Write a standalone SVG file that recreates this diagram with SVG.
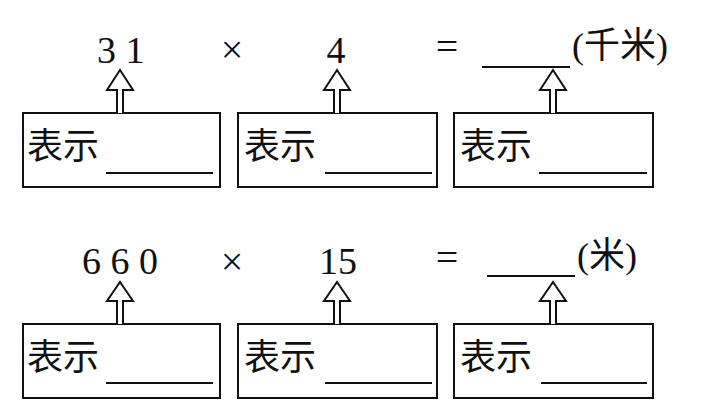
<svg xmlns="http://www.w3.org/2000/svg" width="711" height="406" viewBox="0 0 711 406">
<style>
.box{fill:none;stroke:#111;stroke-width:2}
.ln{stroke:#111;stroke-width:2}
.arr{fill:#fff;stroke:#111;stroke-width:2;stroke-linejoin:miter}
.num{font-family:"Liberation Serif",serif;font-size:38px;fill:#111}
.op{font-family:"Liberation Serif",serif;font-size:40px;fill:#111}
.cj{font-family:"Liberation Serif","Noto Sans CJK SC",serif;font-size:36px;fill:#111}
</style>
<rect width="711" height="406" fill="#fff"/>
<g id="row1-texts">
<text class="num" x="97" y="63">3 1</text>
<text class="op" x="232" y="63" text-anchor="middle">×</text>
<text class="num" x="336" y="63" text-anchor="middle">4</text>
<text class="op" x="447" y="60" text-anchor="middle">=</text>
<line class="ln" x1="482" y1="67" x2="570" y2="67"/>
<text class="cj" x="572" y="58">(千米)</text>
</g>
<g id="row2-texts">
<text class="num" x="82" y="274">6 6 0</text>
<text class="op" x="232" y="275" text-anchor="middle">×</text>
<text class="num" x="338" y="274" text-anchor="middle">15</text>
<text class="op" x="447" y="271" text-anchor="middle">=</text>
<line class="ln" x1="487" y1="276" x2="575" y2="276"/>
<text class="cj" x="577" y="268">(米)</text>
</g>
<g id="node-r1-1"><rect class="box" x="23" y="113" width="197" height="74"/><text class="cj" x="27" y="159">表示</text><line class="ln" x1="106" y1="173" x2="213" y2="173"/></g>
<g id="node-r1-2"><rect class="box" x="238" y="113" width="199" height="74"/><text class="cj" x="244" y="159">表示</text><line class="ln" x1="325" y1="173" x2="432" y2="173"/></g>
<g id="node-r1-3"><rect class="box" x="454" y="113" width="199" height="74"/><text class="cj" x="460" y="159">表示</text><line class="ln" x1="539" y1="173" x2="647" y2="173"/></g>
<g id="node-r2-1"><rect class="box" x="23" y="324" width="197" height="74"/><text class="cj" x="27" y="370">表示</text><line class="ln" x1="106" y1="383" x2="213" y2="383"/></g>
<g id="node-r2-2"><rect class="box" x="238" y="324" width="199" height="74"/><text class="cj" x="244" y="370">表示</text><line class="ln" x1="325" y1="383" x2="432" y2="383"/></g>
<g id="node-r2-3"><rect class="box" x="454" y="324" width="199" height="74"/><text class="cj" x="460" y="370">表示</text><line class="ln" x1="541" y1="383" x2="647" y2="383"/></g>
<g id="connectors">
<path class="arr" d="M117,113 V90 H107 L120,70 L133,90 H123 V113"/>
<path class="arr" d="M334,113 V90 H324 L337,70 L350,90 H340 V113"/>
<path class="arr" d="M550,113 V90 H540 L553,70 L566,90 H556 V113"/>
<path class="arr" d="M117,324 V301 H107 L120,282 L133,301 H123 V324"/>
<path class="arr" d="M334,324 V301 H324 L337,282 L350,301 H340 V324"/>
<path class="arr" d="M550,324 V301 H540 L553,282 L566,301 H556 V324"/>
</g>
</svg>
